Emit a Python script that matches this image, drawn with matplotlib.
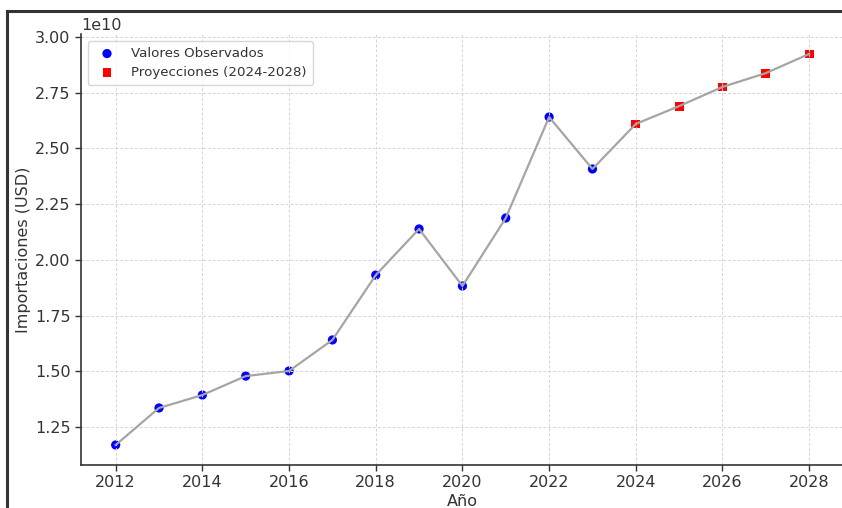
import matplotlib
matplotlib.use("Agg")
import matplotlib.pyplot as plt
from matplotlib.lines import Line2D

# Observed values (USD)
years_obs = [2012, 2013, 2014, 2015, 2016, 2017, 2018, 2019, 2020, 2021, 2022, 2023]
imports_obs = [1.170e10, 1.336e10, 1.394e10, 1.479e10, 1.502e10, 1.641e10,
               1.932e10, 2.139e10, 1.883e10, 2.188e10, 2.641e10, 2.408e10]

# Projections
years_proj = [2024, 2025, 2026, 2027, 2028]
imports_proj = [2.610e10, 2.690e10, 2.776e10, 2.838e10, 2.924e10]

TEXT = "#333333"

plt.rcParams["font.family"] = "DejaVu Sans"
plt.rcParams["text.color"] = TEXT
plt.rcParams["axes.labelcolor"] = TEXT
plt.rcParams["xtick.color"] = TEXT
plt.rcParams["ytick.color"] = TEXT

fig = plt.figure(figsize=(8.42, 5.08), dpi=100)
ax = fig.add_axes([0.0962, 0.0856, 0.906, 0.8467])

ax.scatter(years_obs, imports_obs, color="blue", s=44, edgecolors="none",
           label="Valores Observados")
ax.scatter(years_proj, imports_proj, color="red", marker="s", s=40, edgecolors="none",
           label="Proyecciones (2024-2028)")
ax.plot(years_obs + years_proj, imports_obs + imports_proj,
        color="#a5a5a5", linewidth=1.6)

ax.set_xticks(range(2012, 2029, 2))
ax.set_yticks([1.25e10, 1.5e10, 1.75e10, 2.0e10, 2.25e10, 2.5e10, 2.75e10, 3.0e10])
ax.tick_params(labelsize=11.5, length=4, width=1)
ax.yaxis.get_offset_text().set_fontsize(11.5)

ax.set_xlabel("Año", fontsize=11.5, labelpad=3)
ax.set_ylabel("Importaciones (USD)", fontsize=11.5, labelpad=3)

ax.grid(True, linestyle=(0, (3, 2)), color="#d5d5d5", linewidth=0.7)
for side in ["top", "right"]:
    ax.spines[side].set_visible(False)
for side in ["left", "bottom"]:
    ax.spines[side].set_color(TEXT)
    ax.spines[side].set_linewidth(1.2)

leg = ax.legend(loc="upper left", fontsize=9.6, frameon=True, borderpad=0.45,
                labelspacing=0.45)
leg.get_frame().set_edgecolor("#cccccc")

# dark frame around the screenshot (top and left)
W, H = 842, 508
fig.add_artist(Line2D([6.5 / W, 1.0], [1 - 10.5 / H, 1 - 10.5 / H],
                      color="#333333", linewidth=2.2, transform=fig.transFigure))
fig.add_artist(Line2D([6.5 / W, 6.5 / W], [0.0, 1 - 10.5 / H],
                      color="#333333", linewidth=2.2, transform=fig.transFigure))

fig.savefig("out.png", dpi=100)
